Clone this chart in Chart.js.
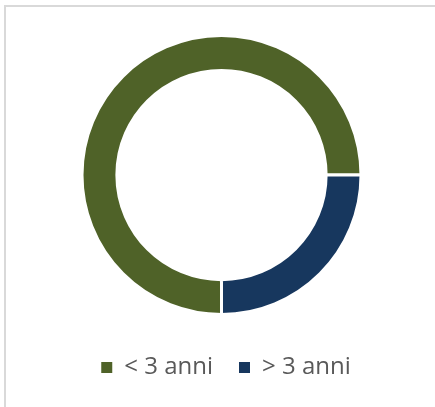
<!DOCTYPE html>
<html>
<head>
<meta charset="utf-8">
<script src="https://cdn.jsdelivr.net/npm/chart.js@4"></script>
<style>
  html, body { margin: 0; padding: 0; background: #fff; }
  #wrap { position: relative; width: 435px; height: 407px; overflow: hidden; }
  #frame { position: absolute; left: 4px; top: 5px; right: -10px; bottom: -10px;
           border-top: 2px solid #d9d9d9; border-left: 2px solid #d9d9d9; }
  canvas { position: absolute; left: 0; top: 0; }
</style>
</head>
<body>
<div id="wrap">
  <div id="frame"></div>
  <canvas id="c" width="435" height="407"></canvas>
</div>
<script>
const categories = ['< 3 anni', '> 3 anni'];
const values = [75, 25];
const colors = ['#4F6228', '#17375E'];

const shiftLegend = {
  id: 'shiftLegend',
  afterLayout(chart) {
    const lg = chart.legend;
    if (lg) { lg.left += 4.5; lg.right += 4.5; }
  }
};

new Chart(document.getElementById('c'), {
  type: 'doughnut',
  data: {
    labels: categories,
    datasets: [{
      data: values,
      backgroundColor: colors,
      borderColor: '#ffffff',
      borderWidth: 3,
      hoverOffset: 0,
      hoverBorderWidth: 3
    }]
  },
  plugins: [shiftLegend],
  options: {
    responsive: false,
    animation: false,
    rotation: 180,
    cutout: '75%',
    layout: { padding: { top: 34, left: 8, right: 0, bottom: 17.5 } },
    plugins: {
      tooltip: { enabled: false },
      legend: {
        position: 'bottom',
        title: { display: true, text: '', font: { size: 10 }, padding: { top: 1.5, bottom: 0 } },
        labels: {
          boxWidth: 11,
          boxHeight: 11,
          padding: 26,
          color: '#595959',
          font: { family: 'Open Sans', size: 24 },
          generateLabels(chart) {
            return Chart.overrides.doughnut.plugins.legend.labels.generateLabels(chart)
              .map(l => Object.assign({}, l, { lineWidth: 0, strokeStyle: l.fillStyle }));
          }
        }
      }
    }
  }
});
</script>
</body>
</html>
